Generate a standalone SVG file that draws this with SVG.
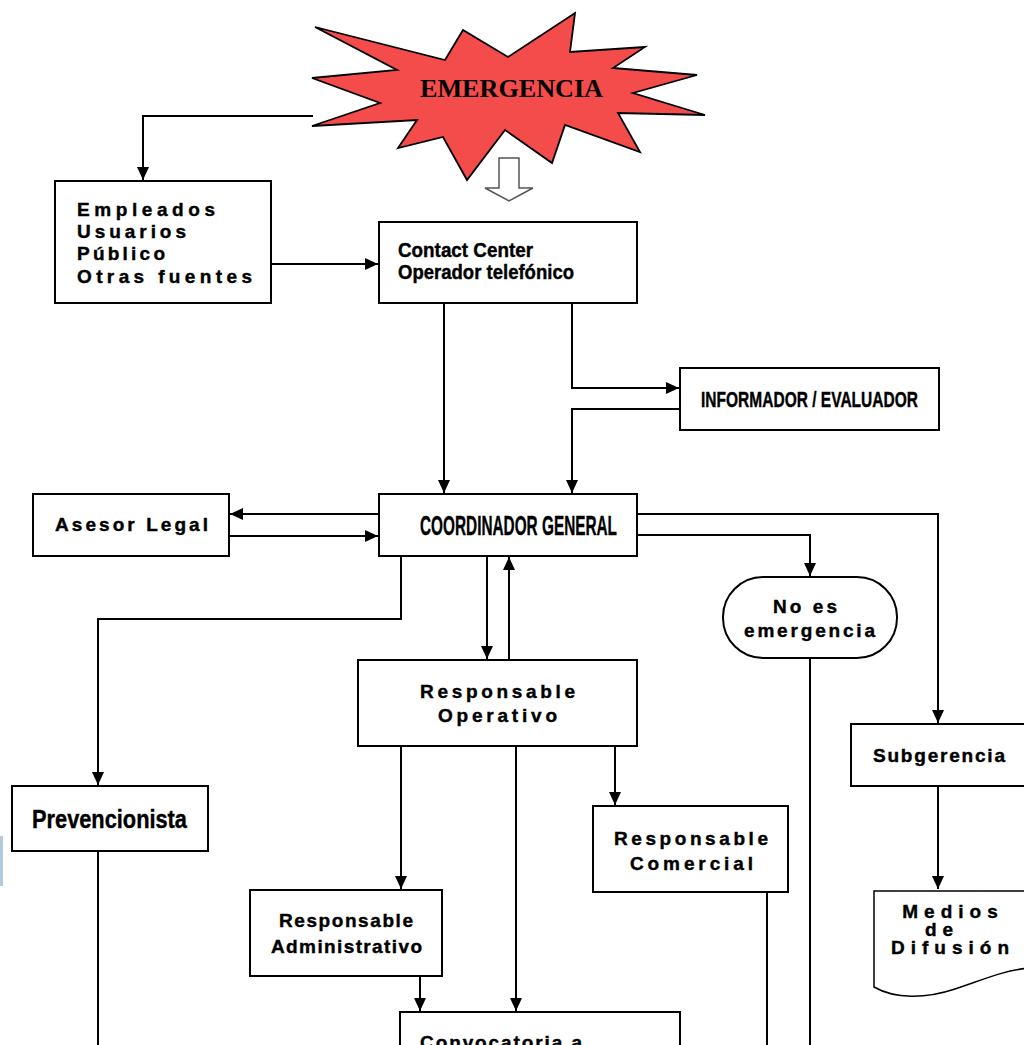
<svg xmlns="http://www.w3.org/2000/svg" width="1024" height="1045" viewBox="0 0 1024 1045">
<defs>
<marker id="ah" markerUnits="userSpaceOnUse" markerWidth="14" markerHeight="14" refX="13" refY="6" orient="auto">
<path d="M0,0 L13,6 L0,12 z" fill="#000"/>
</marker>
<style>
.box{fill:#fff;stroke:#000;stroke-width:2}
.ln{fill:none;stroke:#000;stroke-width:2}
.arr{fill:none;stroke:#000;stroke-width:2;marker-end:url(#ah)}
.sp{font-family:"Liberation Sans",Arial,sans-serif;font-weight:bold;font-size:19px;fill:#000;stroke:#000;stroke-width:0.4}
.cn{font-family:"Liberation Sans",Arial,sans-serif;font-weight:bold;fill:#000;stroke:#000;stroke-width:0.4}
</style>
</defs>
<rect width="1024" height="1045" fill="#fff"/>
<rect x="0" y="836" width="3" height="50" fill="#b4cadc"/>

<g id="connectors">
<polyline class="arr" points="313,116 143,116 143,180"/>
<polygon points="499,158 519,158 519,188 533,188 509,201 485,188 499,188" fill="#fff" stroke="#555" stroke-width="1.5"/>
<line class="arr" x1="271" y1="264" x2="378" y2="264"/>
<line class="arr" x1="444" y1="303" x2="444" y2="493"/>
<polyline class="arr" points="572,303 572,388 679,388"/>
<polyline class="arr" points="680,409 572,409 572,493"/>
<line class="arr" x1="379" y1="514" x2="230" y2="514"/>
<line class="arr" x1="229" y1="536" x2="378" y2="536"/>
<polyline class="arr" points="637,514 938,514 938,723"/>
<polyline class="arr" points="637,535 810,535 810,576"/>
<line class="ln" x1="810" y1="658" x2="810" y2="1045"/>
<polyline class="arr" points="401,556 401,619 98,619 98,785"/>
<line class="arr" x1="487" y1="556" x2="487" y2="659"/>
<line class="arr" x1="509" y1="660" x2="509" y2="557"/>
<line class="arr" x1="401" y1="746" x2="401" y2="889"/>
<line class="arr" x1="516" y1="746" x2="516" y2="1011"/>
<line class="arr" x1="615" y1="746" x2="615" y2="805"/>
<line class="ln" x1="98" y1="851" x2="98" y2="1045"/>
<line class="ln" x1="767" y1="892" x2="767" y2="1045"/>
<line class="arr" x1="420" y1="976" x2="420" y2="1011"/>
<line class="arr" x1="938" y1="786" x2="938" y2="889"/>
</g>

<g id="emergencia">
<polygon points="315,27 445,60 463,30 508,57 575,13 570,52 645,47 613,68 697,75 633,93 705,115 618,113 640,152 565,125 552,163 505,130 467,180 443,137 398,148 417,120 312,126 380,103 312,78 397,70" fill="#f44b4b" stroke="#000" stroke-width="1.8" stroke-linejoin="miter"/>
<text x="420" y="97" textLength="183" lengthAdjust="spacingAndGlyphs" font-family="'Liberation Serif','Times New Roman',serif" font-weight="bold" font-size="26" fill="#000">EMERGENCIA</text>
</g>

<g id="fuentes">
<rect class="box" x="55" y="181" width="216" height="122"/>
<text class="sp" font-size="18" x="77" y="216" textLength="138">Empleados</text>
<text class="sp" font-size="18" x="77" y="238" textLength="109">Usuarios</text>
<text class="sp" font-size="18" x="77" y="260" textLength="88">Público</text>
<text class="sp" font-size="18" x="77" y="283" textLength="175">Otras fuentes</text>
</g>

<g id="contact-center">
<rect class="box" x="379" y="222" width="258" height="81"/>
<text class="cn" font-size="20" x="398" y="257" textLength="135" lengthAdjust="spacingAndGlyphs">Contact Center</text>
<text class="cn" font-size="20" x="398" y="279" textLength="176" lengthAdjust="spacingAndGlyphs">Operador telefónico</text>
</g>

<g id="informador">
<rect class="box" x="680" y="368" width="259" height="62"/>
<text class="cn" font-size="22" x="701" y="407" textLength="217" lengthAdjust="spacingAndGlyphs">INFORMADOR / EVALUADOR</text>
</g>

<g id="coordinador">
<rect class="box" x="379" y="494" width="258" height="62"/>
<text class="cn" font-size="28" x="420" y="535" textLength="197" lengthAdjust="spacingAndGlyphs">COORDINADOR GENERAL</text>
</g>

<g id="asesor-legal">
<rect class="box" x="33" y="494" width="196" height="62"/>
<text class="sp" x="55" y="531" textLength="153">Asesor Legal</text>
</g>

<g id="no-es-emergencia">
<rect class="box" x="723" y="577" width="174" height="81" rx="40" ry="40" stroke-width="1.5"/>
<text class="sp" font-size="18" x="773" y="613" textLength="64">No es</text>
<text class="sp" font-size="18" x="744" y="637" textLength="131">emergencia</text>
</g>

<g id="subgerencia">
<rect class="box" x="851" y="724" width="185" height="62"/>
<text class="sp" x="873" y="762" textLength="132">Subgerencia</text>
</g>

<g id="medios-difusion">
<path d="M1030,891 H874 V987 C895,999 925,999 955,989 C985,979 1005,970 1030,968" fill="#fff" stroke="#000" stroke-width="1.5"/>
<text class="sp" font-size="11" text-anchor="middle" letter-spacing="6"><tspan x="953" y="918">Medios</tspan><tspan x="942" y="936">de</tspan><tspan x="953" y="954">Difusión</tspan></text>
</g>

<g id="responsable-operativo">
<rect class="box" x="358" y="660" width="279" height="86"/>
<text class="sp" x="420" y="698" textLength="155">Responsable</text>
<text class="sp" x="438" y="722" textLength="119">Operativo</text>
</g>

<g id="prevencionista">
<rect class="box" x="12" y="786" width="196" height="65"/>
<text class="cn" font-size="26" x="32" y="828" textLength="155" lengthAdjust="spacingAndGlyphs">Prevencionista</text>
</g>

<g id="responsable-comercial">
<rect class="box" x="593" y="806" width="195" height="86"/>
<text class="sp" x="614" y="845" textLength="154">Responsable</text>
<text class="sp" x="630" y="870" textLength="123">Comercial</text>
</g>

<g id="responsable-administrativo">
<rect class="box" x="250" y="890" width="192" height="86"/>
<text class="sp" x="279" y="927" textLength="134">Responsable</text>
<text class="sp" x="271" y="953" textLength="151">Administrativo</text>
</g>

<g id="convocatoria">
<rect class="box" x="400" y="1012" width="280" height="60"/>
<text class="sp" x="420" y="1049" textLength="162">Convocatoria a</text>
</g>
</svg>
